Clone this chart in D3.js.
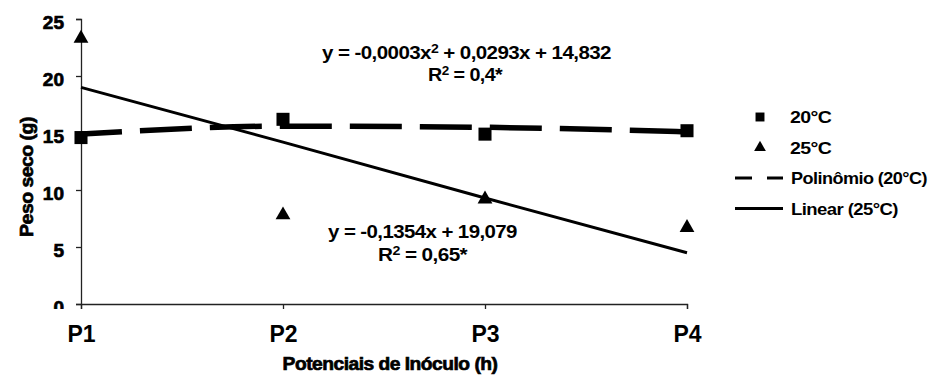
<!DOCTYPE html>
<html>
<head>
<meta charset="utf-8">
<script src="https://cdn.jsdelivr.net/npm/d3@7"></script>
<style>
  body { margin: 0; background: #fff; }
  svg text { font-family: "Liberation Sans", Arial, sans-serif; font-weight: bold; fill: #000; }
  .heavy { stroke: #000; stroke-width: 0.7px; }
</style>
</head>
<body>
<div id="chart"></div>
<script>
// values
const categories = ['P1', 'P2', 'P3', 'P4'];
const series20 = [14.6, 16.2, 14.9, 15.2];   // squares, 20°C
const series25 = [23.3, 7.8, 9.2, 6.7];      // triangles, 25°C
const polyTrend20 = [14.9, 15.6, 15.5, 15.1]; // Polinômio (20°C)
const linearTrend25 = [19.0, 14.2, 9.3, 4.5]; // Linear (25°C)
const yTicks = [0, 5, 10, 15, 20, 25];
const legendItems = ['20°C', '25°C', 'Polinômio (20°C)', 'Linear (25°C)'];

const width = 929, height = 378;
const margin = {top: 19, right: 242, bottom: 74, left: 81};

const svg = d3.select('#chart').append('svg')
  .attr('width', width)
  .attr('height', height);

// the original text is a bit wider than Liberation Sans, so stretch it to the measured width
function fitWidth(text, w) {
  const bw = text.node().getBBox().width;
  text.attr('transform', 'scale(' + (w / bw) + ',1)');
}

const x = d3.scalePoint()
  .domain(categories)
  .range([margin.left, width - margin.right]);

const y = d3.scaleLinear()
  .domain([0, 25])
  .range([height - margin.bottom, margin.top]);

// axes
const xAxis = svg.append('g')
  .attr('transform', 'translate(0,' + (height - margin.bottom) + ')')
  .call(d3.axisBottom(x).tickSize(5));
xAxis.selectAll('text')
  .attr('y', 38).attr('dy', null)
  .style('font-size', '23px');

// the "0" label is cut at the bottom in the original
svg.append('clipPath').attr('id', 'yclip')
  .append('rect').attr('x', -margin.left).attr('y', 0).attr('width', margin.left + 2).attr('height', 309);

const yAxis = svg.append('g')
  .attr('transform', 'translate(' + margin.left + ',0)')
  .attr('clip-path', 'url(#yclip)')
  .call(d3.axisLeft(y).tickValues(yTicks).tickSize(5).tickPadding(12));
yAxis.selectAll('text').attr('dy', '0.48em').style('font-size', '19px').attr('class', 'heavy');

svg.selectAll('.domain, .tick line').attr('stroke', '#222').attr('stroke-width', 1.3);

// trend lines
svg.append('path')
  .datum(polyTrend20)
  .attr('fill', 'none')
  .attr('stroke', '#000')
  .attr('stroke-width', 5.5)
  .attr('stroke-dasharray', '52 18')
  .attr('stroke-dashoffset', 11)
  .attr('d', d3.line().x((d, i) => x(categories[i])).y(d => y(d)).curve(d3.curveMonotoneX));

svg.append('path')
  .datum(linearTrend25)
  .attr('fill', 'none')
  .attr('stroke', '#000')
  .attr('stroke-width', 3)
  .attr('d', d3.line().x((d, i) => x(categories[i])).y(d => y(d)));

// markers
const square = d3.symbol().type(d3.symbolSquare).size(170);
const triangle = d3.symbol().type(d3.symbolTriangle).size(95);

svg.selectAll('.sq')
  .data(series20)
  .enter().append('path')
  .attr('class', 'sq')
  .attr('d', square)
  .attr('transform', (d, i) => 'translate(' + x(categories[i]) + ',' + y(d) + ')');

svg.selectAll('.tri')
  .data(series25)
  .enter().append('path')
  .attr('class', 'tri')
  .attr('d', triangle)
  .attr('transform', (d, i) => 'translate(' + x(categories[i]) + ',' + y(d) + ')');

// equations: left, baseline, width
function equation(left, base, w, parts) {
  const g = svg.append('g').attr('transform', 'translate(' + left + ',' + base + ')');
  const t = g.append('text').style('font-size', '17.5px').attr('letter-spacing', -0.5);
  parts.forEach(p => {
    if (p.sup) t.append('tspan').attr('dy', -6).style('font-size', '12px').text(p.sup);
    else t.append('tspan').attr('dy', p.after ? 6 : 0).text(p.t);
  });
  fitWidth(t, w);
}
equation(322, 59, 290, [{t: 'y = -0,0003x'}, {sup: '2'}, {t: ' + 0,0293x + 14,832', after: true}]);
equation(428, 81, 75, [{t: 'R'}, {sup: '2'}, {t: ' = 0,4*', after: true}]);
equation(328, 238, 190, [{t: 'y = -0,1354x + 19,079'}]);
equation(378, 261, 90, [{t: 'R'}, {sup: '2'}, {t: ' = 0,65*', after: true}]);

// axis titles
const xt = svg.append('g').attr('transform', 'translate(390,370)')
  .append('text')
  .attr('class', 'heavy')
  .attr('text-anchor', 'middle')
  .attr('letter-spacing', -0.5)
  .style('font-size', '19px')
  .text('Potenciais de Inóculo (h)');
fitWidth(xt, 215);

const yt = svg.append('g').attr('transform', 'translate(33,177) rotate(-90)')
  .append('text')
  .attr('class', 'heavy')
  .attr('text-anchor', 'middle')
  .attr('letter-spacing', -0.5)
  .style('font-size', '19px')
  .text('Peso seco (g)');
fitWidth(yt, 120);

// legend
const legendWidths = [42, 42, 136, 107];
const legend = svg.append('g').attr('transform', 'translate(735,117)');
const rowH = 30.5;
legendItems.forEach((name, i) => {
  const row = legend.append('g').attr('transform', 'translate(0,' + (i * rowH) + ')');
  if (i === 0) row.append('path').attr('d', d3.symbol().type(d3.symbolSquare).size(80)).attr('transform', 'translate(25,0)');
  if (i === 1) row.append('path').attr('d', d3.symbol().type(d3.symbolTriangle).size(60)).attr('transform', 'translate(25,0)');
  if (i === 2) row.append('line').attr('x1', 0).attr('x2', 48).attr('stroke', '#000').attr('stroke-width', 3).attr('stroke-dasharray', '17 15');
  if (i === 3) row.append('line').attr('x1', 0).attr('x2', 48).attr('stroke', '#000').attr('stroke-width', 3);
  const t = row.append('g').attr('transform', 'translate(' + (i < 2 ? 55 : 56) + ',6)')
    .append('text')
    .attr('letter-spacing', -0.5)
    .style('font-size', '16.5px')
    .text(name);
  fitWidth(t, legendWidths[i]);
});
</script>
</body>
</html>
